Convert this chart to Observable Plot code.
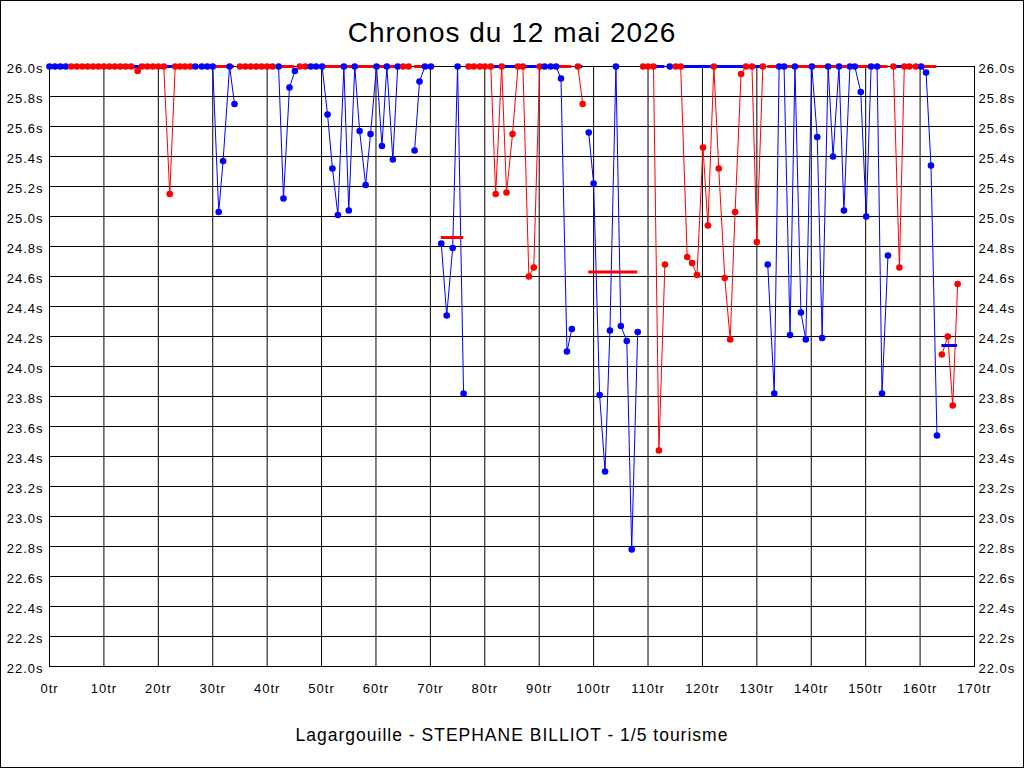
<!DOCTYPE html>
<html>
<head>
<meta charset="utf-8">
<script src="https://cdn.jsdelivr.net/npm/d3@7"></script>
<script src="https://cdn.jsdelivr.net/npm/@observablehq/plot@0.6"></script>
<style>
  html, body { margin: 0; padding: 0; background: #fff; }
  #wrap { position: relative; width: 1024px; height: 768px; overflow: hidden; }
  #wrap svg text { letter-spacing: 1px; }
  #border { position: absolute; left: 0; top: 0; width: 1024px; height: 768px; box-sizing: border-box; border: 1px solid #000; pointer-events: none; }
</style>
</head>
<body>
<div id="wrap"><div id="border"></div></div>
<script>
const title = "Chronos du 12 mai 2026";
const caption = "Lagargouille - STEPHANE BILLIOT - 1/5 tourisme";

const xTicks = [0, 10, 20, 30, 40, 50, 60, 70, 80, 90, 100, 110, 120, 130, 140, 150, 160, 170];
const yTicks = [22.0, 22.2, 22.4, 22.6, 22.8, 23.0, 23.2, 23.4, 23.6, 23.8, 24.0, 24.2, 24.4, 24.6, 24.8, 25.0, 25.2, 25.4, 25.6, 25.8, 26.0];

// one entry per stint: colour, lap numbers, lap times (times above 26.0s shown at 26.0s)
const stintColours = ["blue","red","blue","red","blue","red","blue","red","blue","blue","red","blue","red","blue","red","blue","red","blue","red","blue","red"];
const stintLaps = [
  [0, 1, 2, 3],
  [4, 5, 6, 7, 8, 9, 10, 11, 12, 13, 14, 15, 16.2, 17, 18, 19, 20, 21, 22.1, 23.1, 24.0, 24.9, 25.9],
  [26.8, 28.0, 29.0, 30.0, 31.1, 31.9, 33.1, 34.0],
  [35, 36, 37, 38, 39, 40, 41],
  [42.1, 43.0, 44.1, 45.1],
  [46.0, 47.0],
  [48.0, 49.0, 50.1, 51.1, 52.0, 53.0, 54.1, 55.0, 56.1, 57.0, 58.1, 59.0, 60.1, 61.1, 62.0, 63.1, 64.0],
  [65.0, 66.0],
  [67.1, 68.0, 69.0, 70.1],
  [72.0, 73.0, 74.1, 75.0, 76.1],
  [77.0, 78.0, 79.1, 80.0, 81.1, 82.0, 83.1, 84.0, 85.1, 86.1, 87.0, 88.1, 89.0, 90.1],
  [91.0, 92.1, 93.1, 94.0, 95.1, 96.0],
  [97.1, 98.0],
  [99.1, 100.0, 101.1, 102.1, 103.0, 104.1, 105.0, 106.1, 107.0, 108.1],
  [109.1, 110.0, 111.0, 112.0, 113.1],
  [114.0],
  [115.1, 116.0, 117.2, 118.1, 119.0, 120.1, 121.0, 122.1, 123.0, 124.1, 125.1, 126.0, 127.1, 128.0, 129.1, 130.0, 131.1],
  [132.0, 133.2, 134.1, 135.0, 136.1, 137.0, 138.1, 139.0, 140.1, 141.1, 142.0, 143.1, 144.0, 145.1, 146.0, 147.1, 148.0, 149.1, 150.1, 151.0, 152.1, 153.0, 154.1],
  [155.1, 156.2, 157.1, 158.0, 159.2],
  [160.2, 161.1, 162.0, 163.1],
  [164.0, 165.1, 166.0, 166.9]
];
const stintTimes = [
  [26, 26, 26, 26],
  [26, 26, 26, 26, 26, 26, 26, 26, 26, 26, 26, 26, 25.97, 26, 26, 26, 26, 26, 25.15, 26, 26, 26, 26],
  [26, 26, 26, 26, 25.03, 25.37, 26, 25.75],
  [26, 26, 26, 26, 26, 26, 26],
  [26, 25.12, 25.86, 25.97],
  [26, 26],
  [26, 26, 26, 25.68, 25.32, 25.01, 26, 25.04, 26, 25.57, 25.21, 25.55, 26, 25.47, 26, 25.38, 26],
  [26, 26],
  [25.44, 25.90, 26, 26],
  [24.82, 24.34, 24.79, 26, 23.82],
  [26, 26, 26, 26, 26, 25.15, 26, 25.16, 25.55, 26, 26, 24.60, 24.66, 26],
  [26, 26, 26, 25.92, 24.10, 24.25],
  [26, 25.75],
  [25.56, 25.22, 23.81, 23.30, 24.24, 26, 24.27, 24.17, 22.78, 24.23],
  [26, 26, 26, 23.44, 24.68],
  [26],
  [26, 26, 24.73, 24.69, 24.61, 25.46, 24.94, 26, 25.32, 24.59, 24.18, 25.03, 25.95, 26, 26, 24.83, 26],
  [24.68, 23.82, 26, 26, 24.21, 26, 24.36, 24.18, 26, 25.53, 24.19, 26, 25.40, 26, 25.04, 26, 26, 25.83, 25.00, 26, 26, 23.82, 24.74],
  [26, 24.66, 26, 26, 26],
  [26, 25.96, 25.34, 23.54],
  [24.08, 24.20, 23.74, 24.55]
];

// stint averages (drawn in the other colour; clipped at 26.0s)
const meanStart = [0, 4, 26.8, 35, 42.1, 46, 48, 65, 67.1, 72.0, 77.0, 91.0, 97.1, 99.1, 109.1, 115.1, 132.0, 155.1, 160.2, 164.0];
const meanEnd   = [3, 25.9, 34.0, 41, 45.1, 47, 64.0, 66, 70.1, 76.1, 90.1, 96.0, 98.0, 108.1, 113.1, 131.1, 154.1, 159.2, 163.1, 166.9];
const meanTime  = [26, 26, 26, 26, 26, 26, 26, 26, 26, 24.86, 26, 26, 26, 24.63, 26, 26, 26, 26, 26, 24.14];
const meanColour = ["red","blue","red","blue","red","blue","red","blue","red","red","blue","red","blue","red","blue","blue","red","blue","red","blue"];

const laps = [];
stintLaps.forEach((ls, s) => ls.forEach((lap, i) => laps.push({stint: s, lap, time: stintTimes[s][i], colour: stintColours[s]})));
const means = meanStart.map((a, i) => ({x1: a, x2: meanEnd[i], y: meanTime[i], colour: meanColour[i]}));

const fmtY = d => d.toFixed(1) + "s";
const fmtX = d => d + "tr";

const chart = Plot.plot({
  width: 1024,
  height: 768,
  marginLeft: 49,
  marginRight: 50,
  marginTop: 66,
  marginBottom: 102,
  style: {fontFamily: "'Liberation Sans', Arial, sans-serif", fontSize: "13px", color: "black", background: "white", overflow: "visible"},
  x: {domain: [0, 170]},
  y: {domain: [22, 26]},
  color: {type: "identity"},
  marks: [
    Plot.gridX(xTicks, {stroke: "black", strokeOpacity: 1, strokeWidth: 1}),
    Plot.gridY(yTicks, {stroke: "black", strokeOpacity: 1, strokeWidth: 1}),
    Plot.frame({stroke: "black", strokeWidth: 1}),
    Plot.axisY(yTicks, {anchor: "left", tickSize: 0, tickPadding: 6, tickFormat: fmtY, label: null, dy: 2, fontSize: 13}),
    Plot.axisY(yTicks, {anchor: "right", tickSize: 0, tickPadding: 4, tickFormat: fmtY, label: null, dy: 2, fontSize: 13}),
    Plot.axisX(xTicks, {anchor: "bottom", tickSize: 0, tickPadding: 17, tickFormat: fmtX, label: null, fontSize: 13}),
    Plot.line(laps, {x: "lap", y: "time", z: "stint", stroke: "colour", strokeWidth: 1, curve: "linear"}),
    Plot.ruleY(means, {x1: "x1", x2: "x2", y: "y", stroke: "colour", strokeWidth: 3}),
    Plot.dot(laps, {x: "lap", y: "time", fill: "colour", r: 3.3, stroke: null}),
    Plot.text([title], {frameAnchor: "top", lineAnchor: "middle", dy: -33, fontSize: 28, fill: "black"}),
    Plot.text([caption], {frameAnchor: "bottom", lineAnchor: "middle", dy: 69, fontSize: 17.5, fill: "black"})
  ]
});
document.getElementById("wrap").insertBefore(chart, document.getElementById("border"));
</script>
</body>
</html>
